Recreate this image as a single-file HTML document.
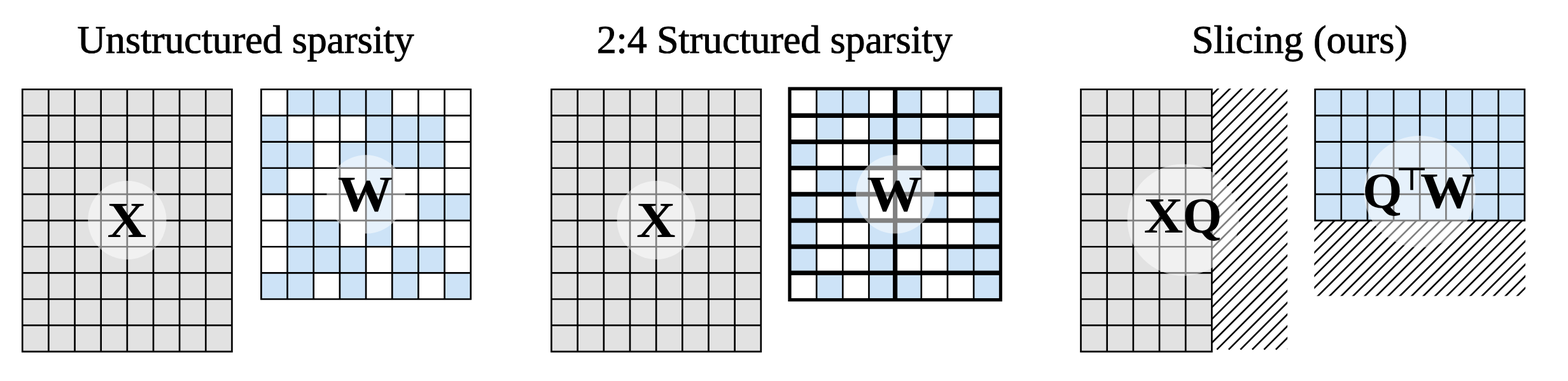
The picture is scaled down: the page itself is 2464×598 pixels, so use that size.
<!DOCTYPE html>
<html lang="en"><head><meta charset="utf-8"><title>Sparsity vs. slicing</title>
<style>html,body{margin:0;padding:0;background:#fff;}body{width:2464px;height:598px;overflow:hidden;}svg{display:block;}text{text-rendering:geometricPrecision;}.t{font-family:"Liberation Serif","DejaVu Serif",serif;font-size:62px;fill:#000;stroke:#000;stroke-width:0.9px;}.l{font-family:"Liberation Serif","DejaVu Serif",serif;font-weight:bold;font-size:79.4px;fill:#000;}.s{font-family:"DejaVu Sans",sans-serif;font-weight:normal;font-size:48.7px;stroke:#000;stroke-width:0.6px;}</style></head><body>
<svg width="2464" height="598" viewBox="0 0 2464 598">
<rect width="2464" height="598" fill="#fff"/>
<rect x="35.2" y="140.25" width="329.28" height="411.6" fill="#e2e2e2"/>
<path d="M35.2 138.93V553.17M76.36 138.93V553.17M117.52 138.93V553.17M158.68 138.93V553.17M199.84 138.93V553.17M241 138.93V553.17M282.16 138.93V553.17M323.32 138.93V553.17M364.48 138.93V553.17M33.88 140.25H365.8M33.88 181.41H365.8M33.88 222.57H365.8M33.88 263.73H365.8M33.88 304.89H365.8M33.88 346.05H365.8M33.88 387.21H365.8M33.88 428.37H365.8M33.88 469.53H365.8M33.88 510.69H365.8M33.88 551.85H365.8" fill="none" stroke="#000" stroke-width="2.65"/>
<circle cx="199.84" cy="345.55" r="61.7" fill="#fff" fill-opacity="0.5"/>
<text class="l" y="372"><tspan x="168.42" textLength="61.49" lengthAdjust="spacingAndGlyphs">X</tspan></text>
<path d="M451.61 140.25h41.16v41.16h-41.16zM492.77 140.25h41.16v41.16h-41.16zM533.93 140.25h41.16v41.16h-41.16zM575.09 140.25h41.16v41.16h-41.16zM410.45 181.41h41.16v41.16h-41.16zM575.09 181.41h41.16v41.16h-41.16zM616.25 181.41h41.16v41.16h-41.16zM657.41 181.41h41.16v41.16h-41.16zM410.45 222.57h41.16v41.16h-41.16zM451.61 222.57h41.16v41.16h-41.16zM533.93 222.57h41.16v41.16h-41.16zM575.09 222.57h41.16v41.16h-41.16zM616.25 222.57h41.16v41.16h-41.16zM657.41 222.57h41.16v41.16h-41.16zM410.45 263.73h41.16v41.16h-41.16zM575.09 263.73h41.16v41.16h-41.16zM451.61 304.89h41.16v41.16h-41.16zM575.09 304.89h41.16v41.16h-41.16zM657.41 304.89h41.16v41.16h-41.16zM698.57 304.89h41.16v41.16h-41.16zM451.61 346.05h41.16v41.16h-41.16zM492.77 346.05h41.16v41.16h-41.16zM575.09 346.05h41.16v41.16h-41.16zM451.61 387.21h41.16v41.16h-41.16zM492.77 387.21h41.16v41.16h-41.16zM533.93 387.21h41.16v41.16h-41.16zM616.25 387.21h41.16v41.16h-41.16zM657.41 387.21h41.16v41.16h-41.16zM410.45 428.37h41.16v41.16h-41.16zM451.61 428.37h41.16v41.16h-41.16zM533.93 428.37h41.16v41.16h-41.16zM616.25 428.37h41.16v41.16h-41.16zM698.57 428.37h41.16v41.16h-41.16z" fill="#cde3f7"/>
<path d="M410.45 138.93V470.85M451.61 138.93V470.85M492.77 138.93V470.85M533.93 138.93V470.85M575.09 138.93V470.85M616.25 138.93V470.85M657.41 138.93V470.85M698.57 138.93V470.85M739.73 138.93V470.85M409.12 140.25H741.06M409.12 181.41H741.06M409.12 222.57H741.06M409.12 263.73H741.06M409.12 304.89H741.06M409.12 346.05H741.06M409.12 387.21H741.06M409.12 428.37H741.06M409.12 469.53H741.06" fill="none" stroke="#000" stroke-width="2.65"/>
<circle cx="575.09" cy="304.89" r="61.7" fill="#fff" fill-opacity="0.5"/>
<text class="l" y="331"><tspan x="530.87" textLength="86.37" lengthAdjust="spacingAndGlyphs">W</tspan></text>
<rect x="866.5" y="140.25" width="329.28" height="411.6" fill="#e2e2e2"/>
<path d="M866.5 138.93V553.17M907.66 138.93V553.17M948.82 138.93V553.17M989.98 138.93V553.17M1031.14 138.93V553.17M1072.3 138.93V553.17M1113.46 138.93V553.17M1154.62 138.93V553.17M1195.78 138.93V553.17M865.17 140.25H1197.11M865.17 181.41H1197.11M865.17 222.57H1197.11M865.17 263.73H1197.11M865.17 304.89H1197.11M865.17 346.05H1197.11M865.17 387.21H1197.11M865.17 428.37H1197.11M865.17 469.53H1197.11M865.17 510.69H1197.11M865.17 551.85H1197.11" fill="none" stroke="#000" stroke-width="2.65"/>
<circle cx="1031.14" cy="345.55" r="61.7" fill="#fff" fill-opacity="0.5"/>
<text class="l" y="372"><tspan x="1000.02" textLength="61.49" lengthAdjust="spacingAndGlyphs">X</tspan></text>
<path d="M1283.16 140.25h41.16v41.16h-41.16zM1324.32 140.25h41.16v41.16h-41.16zM1406.64 140.25h41.16v41.16h-41.16zM1530.12 140.25h41.16v41.16h-41.16zM1283.16 181.41h41.16v41.16h-41.16zM1365.48 181.41h41.16v41.16h-41.16zM1406.64 181.41h41.16v41.16h-41.16zM1488.96 181.41h41.16v41.16h-41.16zM1242 222.57h41.16v41.16h-41.16zM1365.48 222.57h41.16v41.16h-41.16zM1447.8 222.57h41.16v41.16h-41.16zM1488.96 222.57h41.16v41.16h-41.16zM1283.16 263.73h41.16v41.16h-41.16zM1324.32 263.73h41.16v41.16h-41.16zM1406.64 263.73h41.16v41.16h-41.16zM1530.12 263.73h41.16v41.16h-41.16zM1242 304.89h41.16v41.16h-41.16zM1324.32 304.89h41.16v41.16h-41.16zM1447.8 304.89h41.16v41.16h-41.16zM1530.12 304.89h41.16v41.16h-41.16zM1242 346.05h41.16v41.16h-41.16zM1365.48 346.05h41.16v41.16h-41.16zM1406.64 346.05h41.16v41.16h-41.16zM1530.12 346.05h41.16v41.16h-41.16zM1242 387.21h41.16v41.16h-41.16zM1365.48 387.21h41.16v41.16h-41.16zM1488.96 387.21h41.16v41.16h-41.16zM1530.12 387.21h41.16v41.16h-41.16zM1283.16 428.37h41.16v41.16h-41.16zM1365.48 428.37h41.16v41.16h-41.16zM1406.64 428.37h41.16v41.16h-41.16zM1530.12 428.37h41.16v41.16h-41.16z" fill="#cde3f7"/>
<path d="M1242 138.93V470.85M1283.16 138.93V470.85M1324.32 138.93V470.85M1365.48 138.93V470.85M1406.64 138.93V470.85M1447.8 138.93V470.85M1488.96 138.93V470.85M1530.12 138.93V470.85M1571.28 138.93V470.85M1240.67 140.25H1572.61M1240.67 181.41H1572.61M1240.67 222.57H1572.61M1240.67 263.73H1572.61M1240.67 304.89H1572.61M1240.67 346.05H1572.61M1240.67 387.21H1572.61M1240.67 428.37H1572.61M1240.67 469.53H1572.61" fill="none" stroke="#000" stroke-width="2.65"/>
<path d="M1242 181.41H1571.28M1242 222.57H1571.28M1242 263.73H1571.28M1242 304.89H1571.28M1242 346.05H1571.28M1242 387.21H1571.28M1242 428.37H1571.28M1406.64 140.25V469.53" fill="none" stroke="#000" stroke-width="7.2"/>
<rect x="1240.85" y="139.1" width="331.58" height="331.58" fill="none" stroke="#000" stroke-width="5"/>
<circle cx="1406.64" cy="304.89" r="61.7" fill="#fff" fill-opacity="0.5"/>
<text class="l" y="331"><tspan x="1362.47" textLength="86.37" lengthAdjust="spacingAndGlyphs">W</tspan></text>
<clipPath id="c1"><rect x="1905.1" y="139.05" width="118" height="413.55"/></clipPath>
<path clip-path="url(#c1)" d="M1900.1 116.26L2028.1 -11.74M1900.1 134.78L2028.1 6.78M1900.1 153.3L2028.1 25.3M1900.1 171.82L2028.1 43.82M1900.1 190.34L2028.1 62.34M1900.1 208.86L2028.1 80.86M1900.1 227.38L2028.1 99.38M1900.1 245.9L2028.1 117.9M1900.1 264.42L2028.1 136.42M1900.1 282.94L2028.1 154.94M1900.1 301.46L2028.1 173.46M1900.1 319.98L2028.1 191.98M1900.1 338.5L2028.1 210.5M1900.1 357.02L2028.1 229.02M1900.1 375.54L2028.1 247.54M1900.1 394.06L2028.1 266.06M1900.1 412.58L2028.1 284.58M1900.1 431.1L2028.1 303.1M1900.1 449.62L2028.1 321.62M1900.1 468.14L2028.1 340.14M1900.1 486.66L2028.1 358.66M1900.1 505.18L2028.1 377.18M1900.1 523.7L2028.1 395.7M1900.1 542.22L2028.1 414.22M1912.24 548.6L2028.1 432.74M1930.76 548.6L2028.1 451.26M1949.28 548.6L2028.1 469.78M1967.8 548.6L2028.1 488.3M1986.32 548.6L2028.1 506.82M2004.84 548.6L2028.1 525.34M2023.36 548.6L2028.1 543.86" fill="none" stroke="#000" stroke-width="2.6"/>
<rect x="1698.5" y="140.25" width="205.8" height="411.6" fill="#e2e2e2"/>
<path d="M1698.5 138.93V553.17M1739.66 138.93V553.17M1780.82 138.93V553.17M1821.98 138.93V553.17M1863.14 138.93V553.17M1904.3 138.93V553.17M1697.17 140.25H1905.62M1697.17 181.41H1905.62M1697.17 222.57H1905.62M1697.17 263.73H1905.62M1697.17 304.89H1905.62M1697.17 346.05H1905.62M1697.17 387.21H1905.62M1697.17 428.37H1905.62M1697.17 469.53H1905.62M1697.17 510.69H1905.62M1697.17 551.85H1905.62" fill="none" stroke="#000" stroke-width="2.65"/>
<clipPath id="c2"><rect x="2065.3" y="346.05" width="331.78" height="118.45"/></clipPath>
<path clip-path="url(#c2)" d="M2060.3 327.94L2402.08 -13.84M2060.3 346.36L2402.08 4.58M2060.3 364.78L2402.08 23M2060.3 383.2L2402.08 41.42M2060.3 401.62L2402.08 59.84M2060.3 420.04L2402.08 78.26M2060.3 438.46L2402.08 96.68M2060.3 456.88L2402.08 115.1M2060.3 475.3L2402.08 133.52M2060.3 493.72L2402.08 151.94M2060.3 512.14L2402.08 170.36M2060.3 530.56L2402.08 188.78M2060.3 548.98L2402.08 207.2M2060.3 567.4L2402.08 225.62M2060.3 585.82L2402.08 244.04M2060.3 604.24L2402.08 262.46M2060.3 622.66L2402.08 280.88M2060.3 641.08L2402.08 299.3M2060.3 659.5L2402.08 317.72M2060.3 677.92L2402.08 336.14M2060.3 696.34L2402.08 354.56M2060.3 714.76L2402.08 372.98M2060.3 733.18L2402.08 391.4M2060.3 751.6L2402.08 409.82M2060.3 770.02L2402.08 428.24M2060.3 788.44L2402.08 446.66M2060.3 806.86L2402.08 465.08M2060.3 825.28L2402.08 483.5" fill="none" stroke="#000" stroke-width="2.6"/>
<rect x="2066.55" y="140.25" width="329.28" height="205.8" fill="#cde3f7"/>
<path d="M2066.55 138.93V347.37M2107.71 138.93V347.37M2148.87 138.93V347.37M2190.03 138.93V347.37M2231.19 138.93V347.37M2272.35 138.93V347.37M2313.51 138.93V347.37M2354.67 138.93V347.37M2395.83 138.93V347.37M2065.23 140.25H2397.15M2065.23 181.41H2397.15M2065.23 222.57H2397.15M2065.23 263.73H2397.15M2065.23 304.89H2397.15M2065.23 346.05H2397.15" fill="none" stroke="#000" stroke-width="2.65"/>
<circle cx="1859.3" cy="345.2" r="87.8" fill="#fff" fill-opacity="0.5"/>
<text class="l" y="365"><tspan x="1797.41" textLength="61.59" lengthAdjust="spacingAndGlyphs">X</tspan><tspan x="1858.43" textLength="61.76" lengthAdjust="spacingAndGlyphs">Q</tspan></text>
<circle cx="2231" cy="300.8" r="87.8" fill="#fff" fill-opacity="0.5"/>
<text class="l" y="326"><tspan x="2141.14" textLength="62.27" lengthAdjust="spacingAndGlyphs">Q</tspan><tspan x="2193.6" dy="-28" class="s" textLength="50.01" lengthAdjust="spacingAndGlyphs">⊤</tspan><tspan x="2232.08" dy="28" textLength="85.76" lengthAdjust="spacingAndGlyphs">W</tspan></text>
<text class="t" x="121.45" y="83" textLength="529.16" lengthAdjust="spacing">Unstructured sparsity</text>
<text class="t" x="937.68" y="83" textLength="559.0" lengthAdjust="spacing">2:4 Structured sparsity</text>
<text class="t" x="1872.7" y="83">Slicing (ours)</text>
</svg></body></html>
